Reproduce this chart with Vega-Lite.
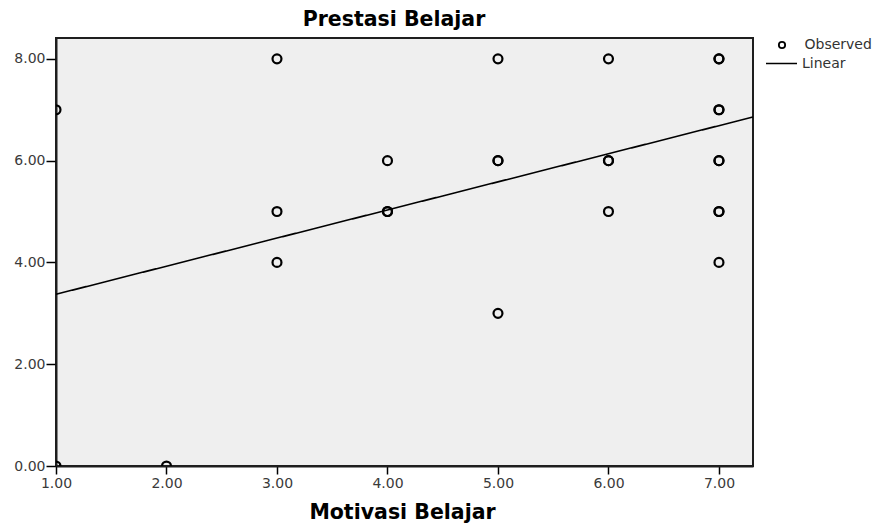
{
  "$schema": "https://vega.github.io/schema/vega-lite/v6.json",
  "width": 697,
  "height": 428,
  "autosize": {"type": "none"},
  "padding": {"left": 56, "top": 38, "right": 124, "bottom": 58},
  "background": "white",
  "config": {
    "view": {"fill": "#efefef", "stroke": "#1e1e1e", "strokeWidth": 2},
    "font": "DejaVu Sans"
  },
  "data": {
    "values": [
      {"series": "Observed", "x": 1, "y": 7},
      {"series": "Observed", "x": 1, "y": 0},
      {"series": "Observed", "x": 2, "y": 0},
      {"series": "Observed", "x": 3, "y": 8},
      {"series": "Observed", "x": 3, "y": 5},
      {"series": "Observed", "x": 3, "y": 4},
      {"series": "Observed", "x": 4, "y": 6},
      {"series": "Observed", "x": 4, "y": 5},
      {"series": "Observed", "x": 4, "y": 5},
      {"series": "Observed", "x": 5, "y": 8},
      {"series": "Observed", "x": 5, "y": 6},
      {"series": "Observed", "x": 5, "y": 6},
      {"series": "Observed", "x": 5, "y": 3},
      {"series": "Observed", "x": 6, "y": 8},
      {"series": "Observed", "x": 6, "y": 6},
      {"series": "Observed", "x": 6, "y": 6},
      {"series": "Observed", "x": 6, "y": 5},
      {"series": "Observed", "x": 7, "y": 8},
      {"series": "Observed", "x": 7, "y": 8},
      {"series": "Observed", "x": 7, "y": 7},
      {"series": "Observed", "x": 7, "y": 7},
      {"series": "Observed", "x": 7, "y": 6},
      {"series": "Observed", "x": 7, "y": 6},
      {"series": "Observed", "x": 7, "y": 5},
      {"series": "Observed", "x": 7, "y": 5},
      {"series": "Observed", "x": 7, "y": 4},
      {"series": "Linear", "x": 1, "y": 3.374},
      {"series": "Linear", "x": 7.308, "y": 6.858}
    ]
  },
  "layer": [
    {
      "transform": [{"filter": "datum.series === 'Observed'"}],
      "mark": {"type": "point", "filled": false, "stroke": "black", "strokeWidth": 2.2, "size": 80, "opacity": 1, "clip": true},
      "encoding": {
        "x": {
          "field": "x", "type": "quantitative",
          "scale": {"domain": [1, 7.308], "nice": false, "zero": false},
          "axis": {
            "values": [1, 2, 3, 4, 5, 6, 7], "format": ".2f", "grid": false,
            "labelFont": "DejaVu Sans", "labelFontSize": 14, "labelColor": "#3a3a3a",
            "labelFlush": false, "labelOverlap": false, "labelPadding": 2,
            "tickSize": 8, "tickWidth": 1.5, "tickColor": "black",
            "domainColor": "#1e1e1e", "domainWidth": 2,
            "title": "Motivasi Belajar", "titleFont": "DejaVu Sans", "titleFontWeight": "bold",
            "titleFontSize": 20.5, "titleColor": "black", "titleX": 346, "titleY": 52,
            "titleBaseline": "alphabetic", "titleAlign": "center"
          }
        },
        "y": {
          "field": "y", "type": "quantitative",
          "scale": {"domain": [0, 8.41], "nice": false, "zero": false},
          "axis": {
            "values": [0, 2, 4, 6, 8], "format": ".2f", "grid": false,
            "labelFont": "DejaVu Sans", "labelFontSize": 14, "labelColor": "#3a3a3a",
            "labelFlush": false, "labelOverlap": false, "labelPadding": 1,
            "tickSize": 10, "tickWidth": 1.5, "tickColor": "black",
            "domainColor": "#1e1e1e", "domainWidth": 2,
            "title": "Prestasi Belajar", "titleFont": "DejaVu Sans", "titleFontWeight": "bold",
            "titleFontSize": 20.5, "titleColor": "black", "titleAngle": 0,
            "titleX": 337.5, "titleY": -13, "titleBaseline": "alphabetic", "titleAlign": "center"
          }
        },
        "shape": {
          "field": "series", "type": "nominal",
          "scale": {"domain": ["Observed"], "range": ["circle"]},
          "legend": {
            "title": null, "orient": "none", "legendX": 719, "legendY": 0, "padding": 0,
            "symbolSize": 40, "symbolStrokeColor": "black", "symbolFillColor": "transparent",
            "symbolStrokeWidth": 1.8, "labelFont": "DejaVu Sans", "labelFontSize": 14,
            "labelColor": "#333333", "labelOffset": 15.5, "labelLimit": 300
          }
        }
      }
    },
    {
      "transform": [{"filter": "datum.series === 'Linear'"}],
      "mark": {"type": "line", "color": "black", "strokeWidth": 1.6, "clip": true},
      "encoding": {
        "x": {"field": "x", "type": "quantitative"},
        "y": {"field": "y", "type": "quantitative"},
        "strokeDash": {
          "field": "series", "type": "nominal",
          "scale": {"domain": ["Linear"], "range": [[1, 0]]},
          "legend": {
            "title": null, "orient": "none", "legendX": 709, "legendY": 9, "padding": 0,
            "symbolType": "stroke", "symbolSize": 961, "symbolStrokeColor": "black",
            "symbolStrokeWidth": 1.6, "labelFont": "DejaVu Sans", "labelFontSize": 14,
            "labelColor": "#333333", "labelOffset": 4, "labelLimit": 300
          }
        }
      }
    }
  ]
}
